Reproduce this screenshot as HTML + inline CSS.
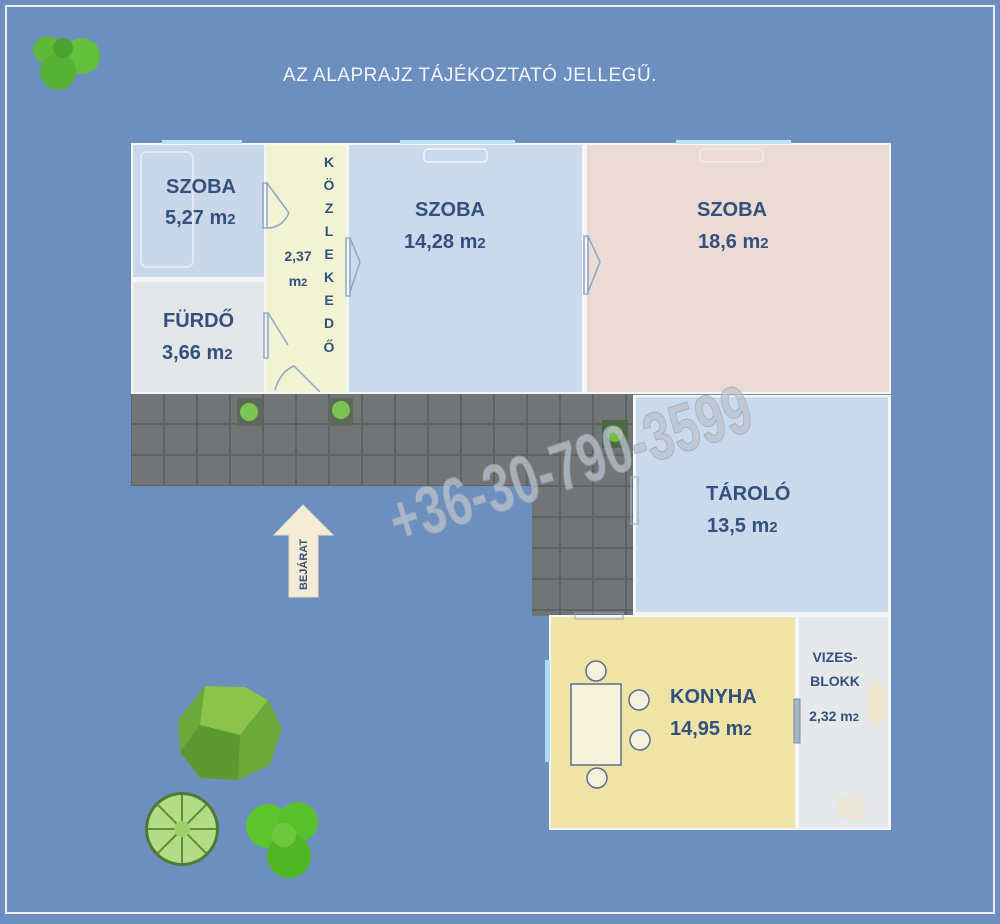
<!DOCTYPE html>
<html><head><meta charset="utf-8"><style>
body{margin:0;width:1000px;height:919px;overflow:hidden;background:#6c8fbf;font-family:"Liberation Sans",sans-serif}
svg text{font-family:"Liberation Sans","DejaVu Sans",sans-serif;font-weight:bold;fill:#34507e}
</style></head><body>
<svg width="1000" height="919" viewBox="0 0 1000 919" xmlns="http://www.w3.org/2000/svg">
<defs>
<pattern id="tile" x="131" y="393" width="33" height="31" patternUnits="userSpaceOnUse">
<rect width="33" height="31" fill="#737475"/><rect x="0.5" y="0.5" width="32" height="30" fill="none" stroke="#606163" stroke-width="1"/>
</pattern>
</defs>
<rect x="0" y="0" width="1000" height="919" fill="#6c8fbf"/>
<rect x="6" y="6" width="988" height="907" fill="none" stroke="#e8eef7" stroke-width="2"/>
<text x="470" y="81" text-anchor="middle" font-size="19" letter-spacing="0.5" style="font-weight:normal;fill:#f4f6fb">AZ ALAPRAJZ TÁJÉKOZTATÓ JELLEGŰ.</text>

<!-- rooms -->
<rect x="131" y="143" width="760" height="251" fill="#f4f6f8"/>
<rect x="133" y="145" width="131" height="132" fill="#c9d7ea"/>
<rect x="133" y="282" width="131" height="110" fill="#e3e5e8"/>
<rect x="266" y="145" width="80" height="247" fill="#f2f3d2"/>
<rect x="349" y="145" width="233" height="247" fill="#cad9ec"/>
<rect x="587" y="145" width="302" height="247" fill="#ecdbd4"/>
<!-- windows -->
<rect x="162" y="140" width="80" height="4" fill="#bfe3f2"/>
<rect x="400" y="140" width="115" height="4" fill="#bfe3f2"/>
<rect x="676" y="140" width="115" height="4" fill="#bfe3f2"/>
<!-- furniture faint -->
<rect x="141" y="152" width="52" height="115" rx="6" fill="none" stroke="#e3eaf3" stroke-width="2"/>
<rect x="424" y="149" width="63" height="13" rx="4" fill="none" stroke="#f2f5f9" stroke-width="1.5"/>
<rect x="700" y="149" width="63" height="13" rx="4" fill="none" stroke="#f4ece8" stroke-width="1.5"/>
<!-- doors -->
<g fill="none" stroke="#8ea6c9" stroke-width="1.5">
<rect x="263" y="183" width="4" height="45"/><path d="M267 183 L289 213 M267 228 Q282 228 289 213"/>
<rect x="264" y="313" width="4" height="45"/><path d="M268 313 L288 345"/>
<rect x="346" y="238" width="4" height="58"/><path d="M350 238 L360 262 L350 292"/>
<rect x="584" y="236" width="4" height="58"/><path d="M588 236 L600 262 L588 292"/>
<path d="M275 390 Q280 372 294 366 L320 392"/>
</g>
<!-- paving -->
<rect x="131" y="394" width="502" height="92" fill="url(#tile)"/>
<rect x="532" y="484" width="101" height="132" fill="url(#tile)"/>
<rect x="237" y="398" width="25" height="28" fill="#5d6a5a"/>
<circle cx="249" cy="412" r="9" fill="#7dc356"/>
<rect x="328" y="398" width="25" height="28" fill="#5d6a5a"/>
<circle cx="341" cy="410" r="9" fill="#7dc356"/>
<rect x="602" y="420" width="26" height="28" fill="#4e6a45"/>
<circle cx="615" cy="434" r="8" fill="#6dc23c"/>
<!-- taroló -->
<rect x="633" y="395" width="258" height="220" fill="#f4f6f8"/>
<rect x="636" y="397" width="252" height="215" fill="#cad9ec"/>
<rect x="631" y="477" width="7" height="47" fill="none" stroke="#9eb2d0" stroke-width="1.2"/>
<!-- konyha + vizes -->
<rect x="549" y="615" width="342" height="215" fill="#f4f6f8"/>
<rect x="551" y="617" width="244" height="211" fill="#efe3a6"/>
<rect x="799" y="617" width="89" height="211" fill="#e6e8ec"/>
<rect x="575" y="613" width="48" height="6" fill="none" stroke="#8ea6c9" stroke-width="1"/>
<rect x="545" y="660" width="5" height="102" fill="#a9ddf0"/>
<rect x="794" y="699" width="6" height="44" fill="#a5b3c3" stroke="#7d8ea4"/>
<ellipse cx="877" cy="703" rx="10" ry="22" fill="#eee9d0"/>
<circle cx="851" cy="808" r="14" fill="#eae7d8"/>
<g fill="#f6f1dd" stroke="#5d6e8e" stroke-width="1.5">
<rect x="571" y="684" width="50" height="81"/>
<circle cx="596" cy="671" r="10"/><circle cx="639" cy="700" r="10"/><circle cx="640" cy="740" r="10"/><circle cx="597" cy="778" r="10"/>
</g>

<!-- labels -->
<g font-size="20">
<text x="166" y="193">SZOBA</text>
<text x="165" y="224">5,27 m<tspan font-size="15">2</tspan></text>
<text x="163" y="327">FÜRDŐ</text>
<text x="162" y="359">3,66 m<tspan font-size="15">2</tspan></text>
<text x="415" y="216">SZOBA</text>
<text x="404" y="248">14,28 m<tspan font-size="15">2</tspan></text>
<text x="697" y="216">SZOBA</text>
<text x="698" y="248">18,6 m<tspan font-size="15">2</tspan></text>
<text x="706" y="500">TÁROLÓ</text>
<text x="707" y="532">13,5 m<tspan font-size="15">2</tspan></text>
<text x="670" y="703">KONYHA</text>
<text x="670" y="735">14,95 m<tspan font-size="15">2</tspan></text>
</g>
<g font-size="14" text-anchor="middle">
<text x="329" y="167">K</text><text x="329" y="190">Ö</text><text x="329" y="213">Z</text><text x="329" y="236">L</text><text x="329" y="259">E</text><text x="329" y="282">K</text><text x="329" y="305">E</text><text x="329" y="328">D</text><text x="329" y="352">Ő</text>
<text x="298" y="261">2,37</text><text x="298" y="286">m<tspan font-size="11">2</tspan></text>
<text x="835" y="662">VIZES-</text><text x="835" y="686">BLOKK</text>
<text x="834" y="721">2,32 m<tspan font-size="11">2</tspan></text>
</g>

<!-- entrance arrow -->
<path d="M303 505 L333 535 L318 535 L318 597 L289 597 L289 535 L274 535 Z" fill="#f4ecd6" stroke="#e8dfc2"/>
<text x="0" y="0" font-size="11" transform="translate(307 590) rotate(-90)" style="font-weight:bold;fill:#3c4f7a">BEJÁRAT</text>

<!-- watermark -->
<text x="0" y="0" font-size="68" transform="translate(398 545) rotate(-18) scale(0.72 1)" style="font-weight:bold;fill:#bcc3cd;opacity:0.75;stroke:#95a0b0;stroke-width:1">+36-30-790-3599</text>

<!-- trees -->
<g>
<circle cx="47" cy="50" r="14" fill="#5eb83a"/><circle cx="82" cy="56" r="18" fill="#62c03a"/><circle cx="58" cy="72" r="18" fill="#56b234"/><circle cx="63" cy="48" r="10" fill="#4ca42e"/>
<polygon points="205,686 245,687 268,700 282,728 270,765 238,780 200,778 180,752 178,720" fill="#6aa93a"/>
<polygon points="205,686 245,687 268,700 240,735 200,725" fill="#8cc34a"/>
<polygon points="180,752 200,725 240,735 238,780 200,778" fill="#5c9a31"/>
<circle cx="182" cy="829" r="37" fill="#4d7a32"/><circle cx="182" cy="829" r="34" fill="#b4dc86"/>
<g stroke="#5b8f3a" stroke-width="2"><path d="M182 795 L182 863 M148 829 L216 829 M158 805 L206 853 M206 805 L158 853"/></g>
<circle cx="182" cy="829" r="8" fill="#9ccf61"/>
<circle cx="268" cy="826" r="22" fill="#5cc42c"/><circle cx="298" cy="822" r="20" fill="#58c02a"/><circle cx="289" cy="856" r="22" fill="#50b626"/><circle cx="284" cy="835" r="12" fill="#6dc83f"/>
</g>
</svg>
</body></html>
